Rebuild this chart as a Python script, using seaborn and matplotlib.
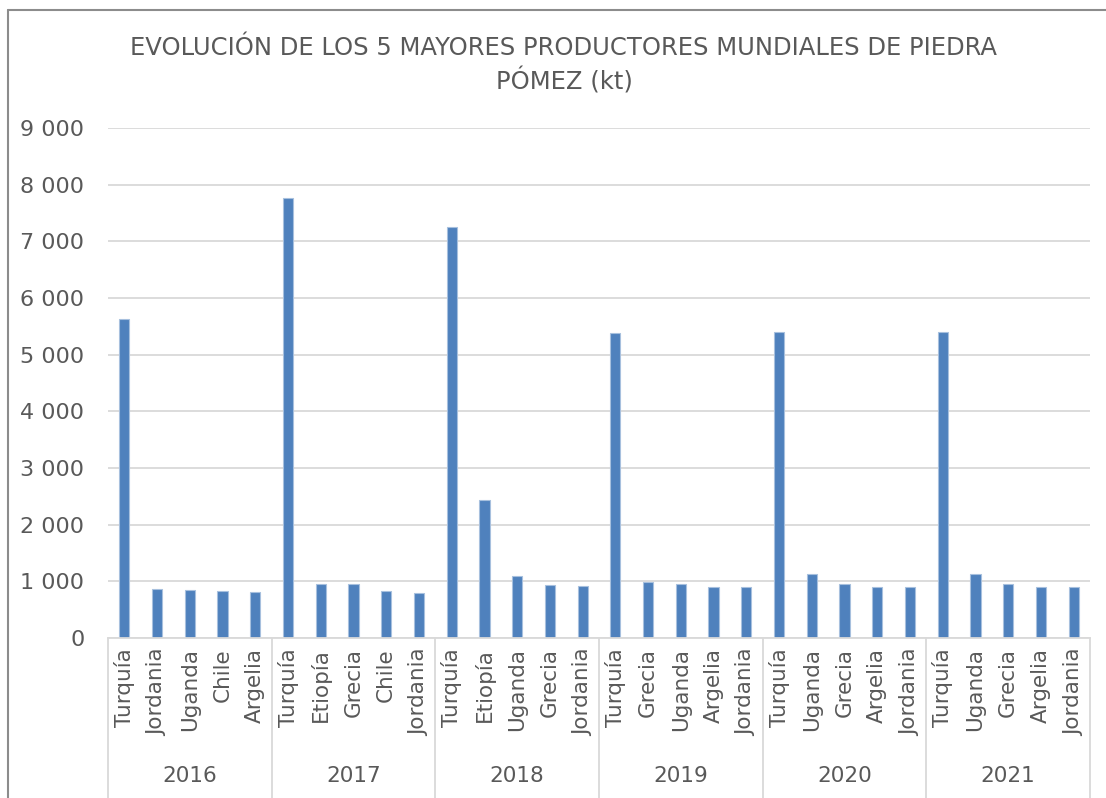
import matplotlib
matplotlib.use("Agg")
import matplotlib.pyplot as plt
import matplotlib.transforms as mtransforms
from matplotlib.lines import Line2D
import seaborn as sns
import pandas as pd

years = ["2016", "2017", "2018", "2019", "2020", "2021"]
countries = [
    ["Turquía", "Jordania", "Uganda", "Chile", "Argelia"],
    ["Turquía", "Etiopía", "Grecia", "Chile", "Jordania"],
    ["Turquía", "Etiopía", "Uganda", "Grecia", "Jordania"],
    ["Turquía", "Grecia", "Uganda", "Argelia", "Jordania"],
    ["Turquía", "Uganda", "Grecia", "Argelia", "Jordania"],
    ["Turquía", "Uganda", "Grecia", "Argelia", "Jordania"],
]
values = [
    [5630, 870, 840, 835, 820],
    [7770, 950, 950, 835, 800],
    [7250, 2430, 1100, 930, 910],
    [5380, 990, 960, 895, 895],
    [5400, 1130, 960, 895, 895],
    [5400, 1130, 960, 895, 895],
]
yticks = [0, 1000, 2000, 3000, 4000, 5000, 6000, 7000, 8000, 9000]
title = "EVOLUCIÓN DE LOS 5 MAYORES PRODUCTORES MUNDIALES DE PIEDRA\nPÓMEZ (kt)"

rows = []
for y, cs, vs in zip(years, countries, values):
    for c, v in zip(cs, vs):
        rows.append({"key": f"{y}-{c}", "year": y, "country": c, "value": v})
df = pd.DataFrame(rows)

sns.set_theme(style="white")
plt.rcParams["font.family"] = ["DejaVu Sans"]

W, H = 1106, 798
fig = plt.figure(figsize=(W / 100, H / 100), dpi=100)
ax = fig.add_axes([108 / W, 1 - 638 / H, (1090 - 108) / W, (638 - 128) / H])

sns.barplot(data=df, x="key", y="value", order=list(df["key"]), ax=ax,
            color="#4F81BD", saturation=1, width=0.31,
            edgecolor="#A7C0DE", linewidth=0.8)

ax.set_ylim(0, 9000)
ax.set_xlim(-0.5, len(df) - 0.5)
ax.set_yticks(yticks)
ax.set_yticklabels([f"{t:,}".replace(",", " ") for t in yticks],
                   fontsize=16, color="#595959")
ax.yaxis.grid(True, color="#D9D9D9", linewidth=1.3)
ax.set_axisbelow(True)
ax.tick_params(axis="y", length=0, pad=17)
ax.set_xlabel("")
ax.set_ylabel("")
for s in ["left", "right", "top"]:
    ax.spines[s].set_visible(False)
ax.spines["bottom"].set_color("#D9D9D9")
ax.spines["bottom"].set_linewidth(1.3)

ax.set_xticks(range(len(df)))
ax.set_xticklabels([])
ax.tick_params(axis="x", length=0)

trans = mtransforms.blended_transform_factory(ax.transData, ax.transAxes)
ax_h = 638 - 128
for i, c in enumerate(df["country"]):
    ax.text(i, -10 / ax_h, c, rotation=90, ha="center", va="top",
            fontsize=15.5, color="#595959", transform=trans, clip_on=False)

n = 5
for g, y in enumerate(years):
    ax.text(g * n + (n - 1) / 2, -138 / ax_h, y, ha="center", va="center",
            fontsize=15.5, color="#595959", transform=trans)
for g in range(len(years) + 1):
    x = g * n - 0.5
    ax.add_line(Line2D([x, x], [0, -(H - 638) / ax_h], color="#D9D9D9",
                       linewidth=1.3, transform=trans, clip_on=False))

fig.text(564 / W, 1 - 65 / H, title, ha="center", va="center",
         fontsize=17.5, color="#595959", linespacing=1.35)

fig.add_artist(Line2D([8 / W, 8 / W], [0, 1 - 10 / H], color="#8C8C8C",
                      linewidth=1.5, transform=fig.transFigure))
fig.add_artist(Line2D([8 / W, 1], [1 - 10 / H, 1 - 10 / H], color="#8C8C8C",
                      linewidth=1.5, transform=fig.transFigure))

fig.savefig("out.png", dpi=100, facecolor="white")
